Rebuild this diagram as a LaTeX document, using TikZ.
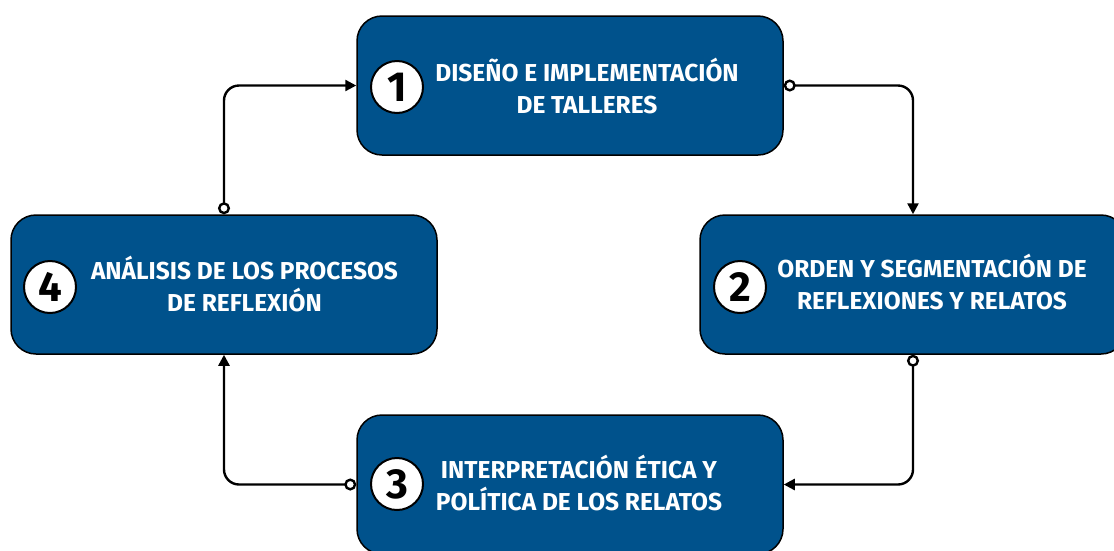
\documentclass[tikz,border=0pt]{standalone}
\usepackage{fontspec}
\setmainfont{Fira Sans}
\usetikzlibrary{arrows.meta}
\definecolor{boxblue}{RGB}{0,82,140}
\begin{document}
\begin{tikzpicture}[x=1pt,y=-1pt,
 stage/.style={draw=black, line width=1.5pt, fill=boxblue, rounded corners=25pt, minimum width=426pt, minimum height=139pt, inner sep=0pt},
 numc/.style={circle, draw=black, line width=2pt, fill=white, minimum size=52pt, inner sep=0pt, font=\fontsize{42}{42}\selectfont\bfseries},
 lbl/.style={text=white, align=center, font=\fontsize{24.5}{32}\selectfont\bfseries},
 link/.style={draw=black, line width=2.4pt, rounded corners=15pt, {Circle[open,fill=white,length=12pt,width=12pt]}-{Triangle[length=11pt,width=11pt]}}
]
\useasboundingbox (0,0) rectangle (1114,550);
\clip (0,0) rectangle (1114,550);
\node[stage] (s1) at (570,85.5) {};
\node[stage] (s2) at (913,284.5) {};
\node[stage] (s4) at (224,284.5) {};
\node[stage] (s3) at (570,484.5) {};
\node[numc] (c1) at (397,87) {1};
\node[numc] (c2) at (740,287) {2};
\node[numc] (c4) at (50,287) {4};
\node[numc] (c3) at (397,484) {3};
\node[lbl] (t1) at (587,86) {DISEÑO E IMPLEMENTACIÓN\\DE TALLERES};
\node[lbl] (t2) at (932,282) {ORDEN Y SEGMENTACIÓN DE\\REFLEXIONES Y RELATOS};
\node[lbl] (t4) at (244.5,284) {ANÁLISIS DE LOS PROCESOS\\DE REFLEXIÓN};
\node[lbl] (t3) at (579,483) {INTERPRETACIÓN ÉTICA Y\\POLÍTICA DE LOS RELATOS};
\draw[link] (s1.east) -| (s2.north);
\draw[link] (s2.south) |- (s3.east);
\draw[link] (s3.west) -| (s4.south);
\draw[link] (s4.north) |- (s1.west);
\end{tikzpicture}
\end{document}
